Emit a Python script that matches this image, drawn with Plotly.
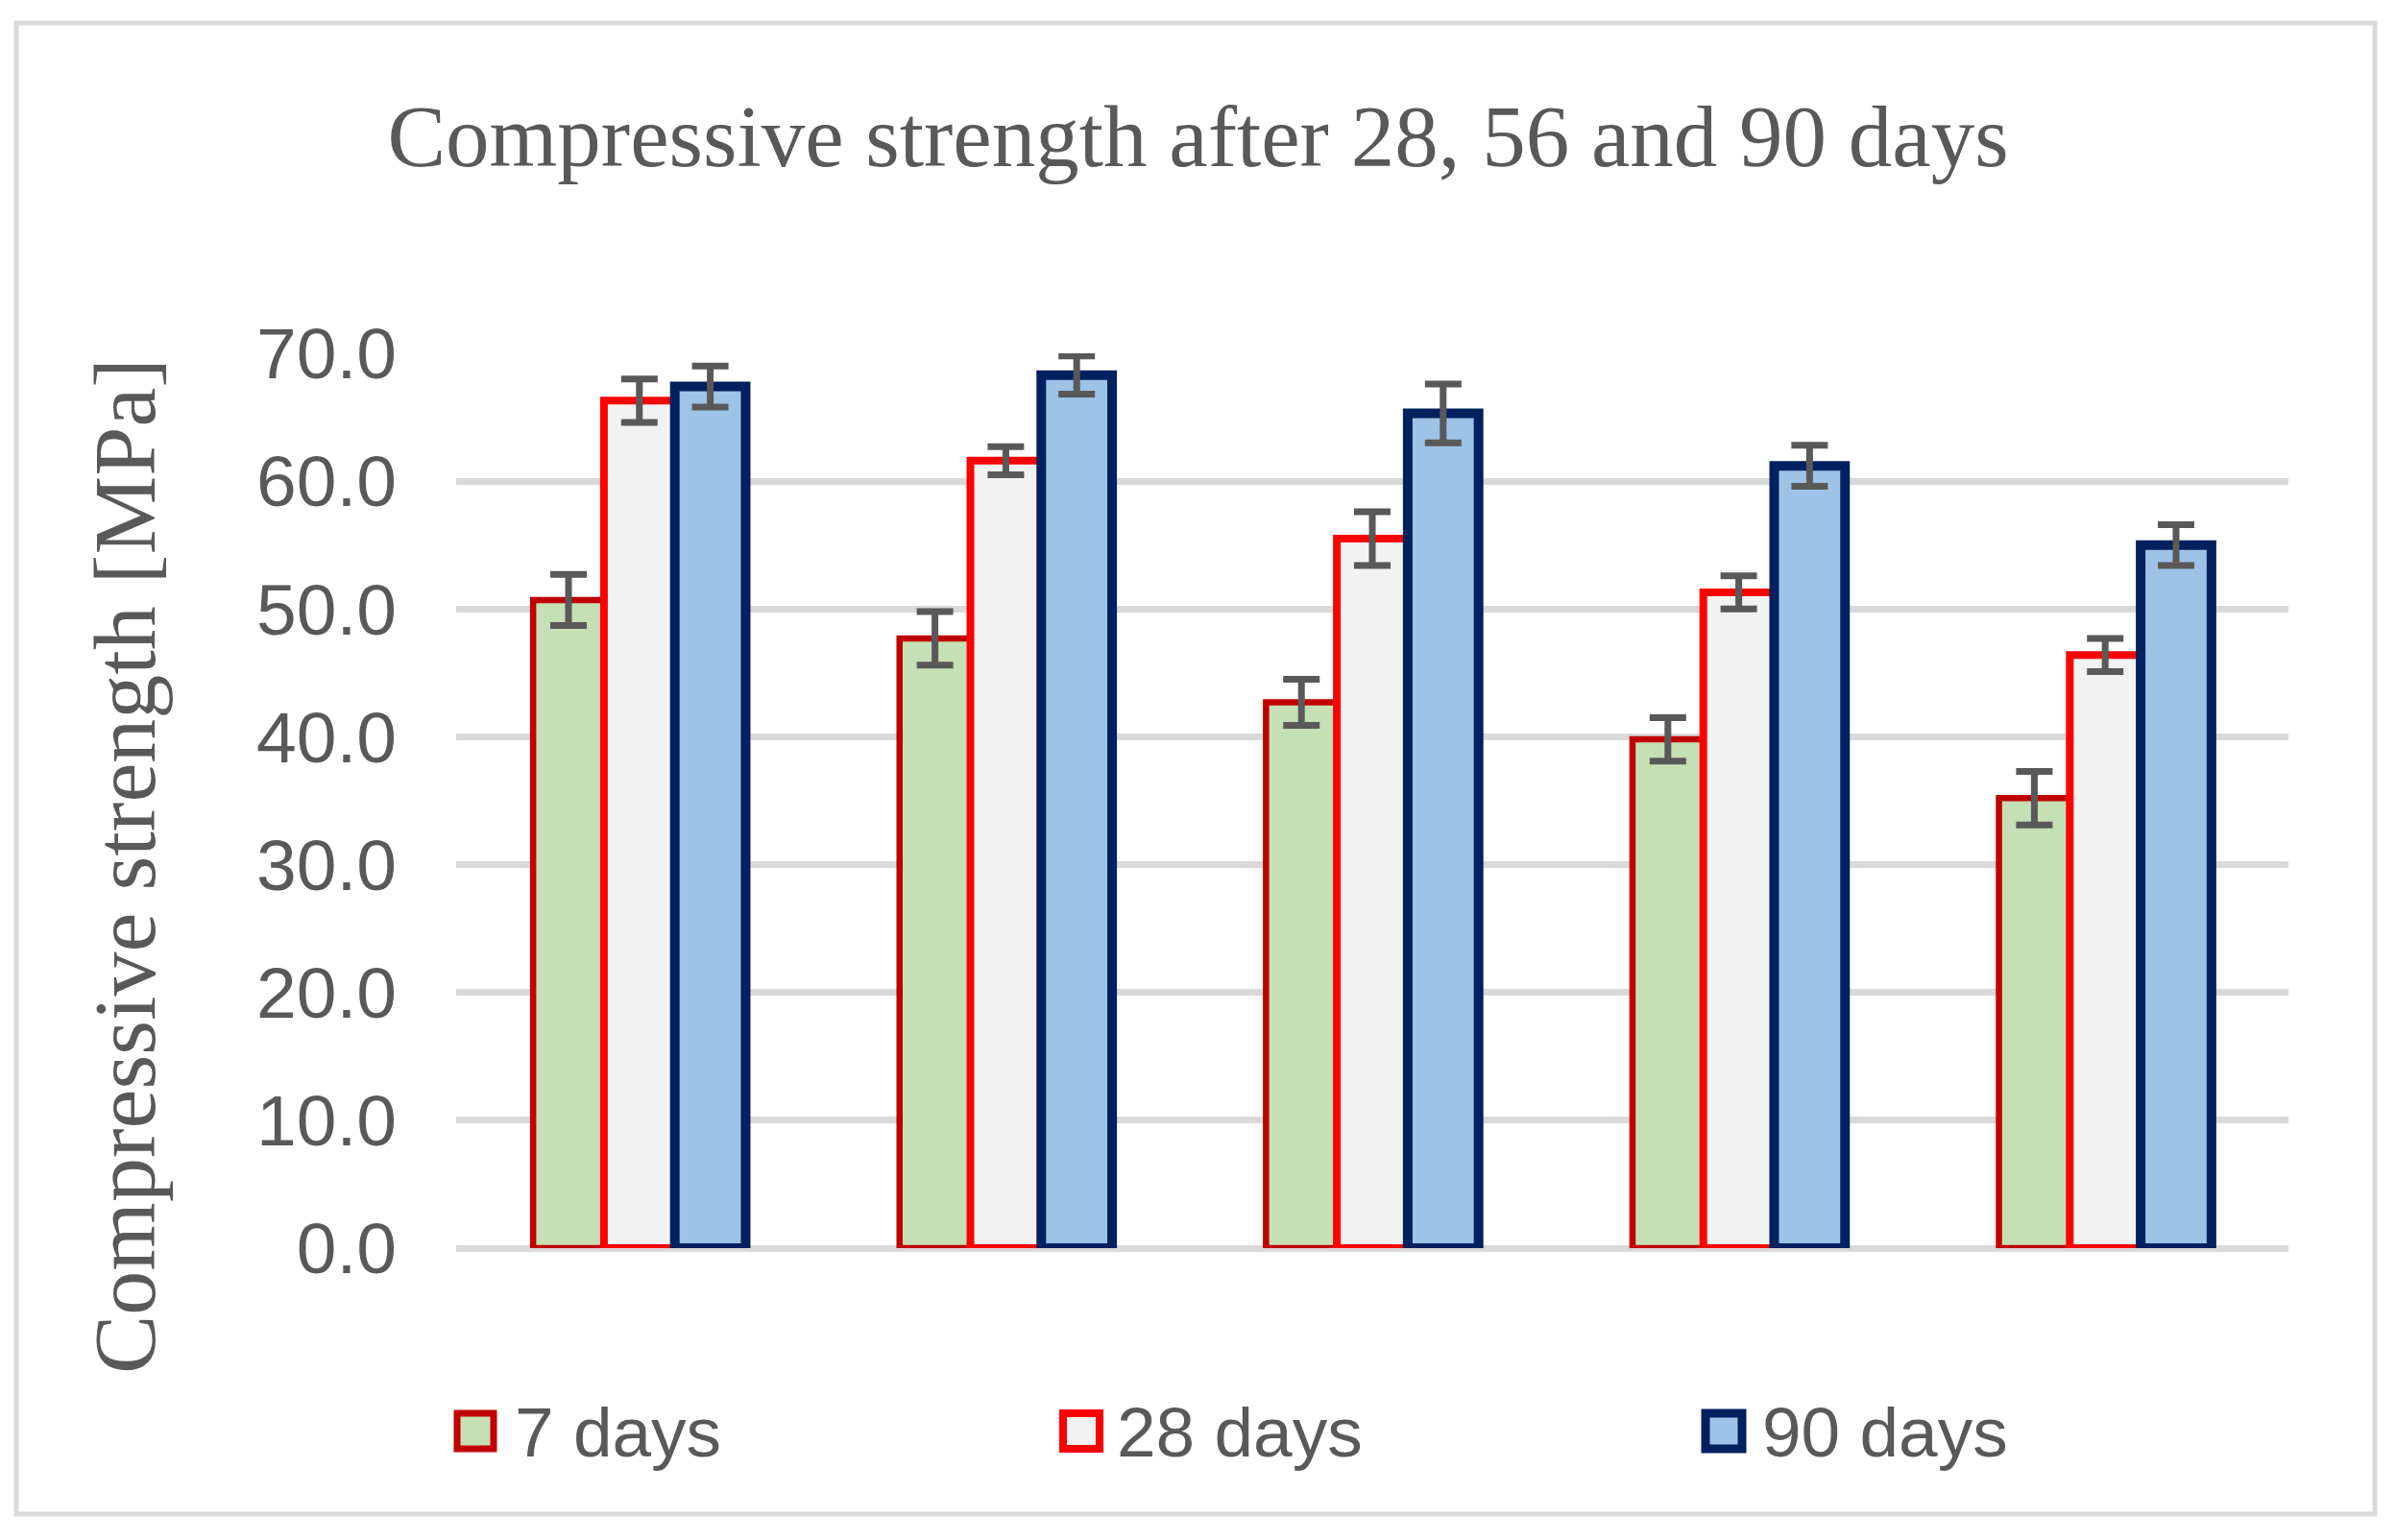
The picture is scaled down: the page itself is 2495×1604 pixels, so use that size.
import plotly.graph_objects as go

# ---- data ----
categories = ["1", "2", "3", "4", "5"]
series_names = ["7 days", "28 days", "90 days"]
values_7d = [50.7, 47.7, 42.7, 39.8, 35.2]
values_28d = [66.3, 61.6, 55.5, 51.3, 46.4]
values_90d = [67.4, 68.3, 65.3, 61.2, 55.0]
err_7d = [2.0, 2.1, 1.8, 1.7, 2.1]
err_28d = [1.7, 1.1, 2.1, 1.3, 1.3]
err_90d = [1.6, 1.5, 2.3, 1.6, 1.6]
y_ticks = [0, 10, 20, 30, 40, 50, 60, 70]
y_ticklabels = ["0.0", "10.0", "20.0", "30.0", "40.0", "50.0", "60.0", "70.0"]

title_text = "Compressive strength after 28, 56 and 90 days"
y_title = "Compressive strength [MPa]"

# ---- style ----
W, H = 2479, 1588
L, R, T, B = 467, 104, 360, 296
TXT = "#595959"
fills = ["#C5E0B4", "#F2F2F2", "#9DC3E6"]
lines = ["#C00000", "#FF0000", "#002060"]
line_w = [6.5, 8, 10]
legend_line_w = [7, 8, 9]
# legend swatch left edges / text starts (pixels in figure)
legend_swatch_x = [468, 1099, 1768]
legend_text_x = [526, 1153, 1825]
legend_swatch_y = (1464, 1501)
legend_text_y = 1483

fig = go.Figure()
for i, (vals, errs) in enumerate([(values_7d, err_7d), (values_28d, err_28d), (values_90d, err_90d)]):
    fig.add_trace(go.Bar(
        x=categories, y=vals, name=series_names[i],
        marker=dict(color=fills[i], line=dict(color=lines[i], width=line_w[i])),
        error_y=dict(type="data", array=errs, visible=True, color=TXT, thickness=7, width=19),
        cliponaxis=False, showlegend=False,
    ))

pw = W - L - R
ph = H - T - B

def px_x(v):
    return (v - L) / pw

def px_y(v):
    return (H - B - v) / ph

shapes = [dict(type="rect", xref="paper", yref="paper",
               x0=px_x(9), x1=px_x(2465), y0=px_y(1569), y1=px_y(16),
               line=dict(color="#D9D9D9", width=5), fillcolor="rgba(0,0,0,0)", layer="below")]
annotations = [dict(text=y_title, textangle=-90, xref="paper", yref="paper",
                    x=px_x(122), y=px_y(894), xanchor="center", yanchor="middle",
                    showarrow=False,
                    font=dict(family="Liberation Serif, Times New Roman, serif", size=92, color=TXT))]

# legend: swatch + label per series
for i, name in enumerate(series_names):
    sx = legend_swatch_x[i]
    shapes.append(dict(type="rect", xref="paper", yref="paper",
                       x0=px_x(sx), x1=px_x(sx + 38),
                       y0=px_y(legend_swatch_y[1]), y1=px_y(legend_swatch_y[0]),
                       line=dict(color=lines[i], width=legend_line_w[i]), fillcolor=fills[i],
                       layer="above"))
    annotations.append(dict(text=name, xref="paper", yref="paper",
                            x=px_x(legend_text_x[i]), y=px_y(legend_text_y),
                            xanchor="left", yanchor="middle", showarrow=False,
                            font=dict(family="Liberation Sans, Arial", size=73, color=TXT)))

fig.update_layout(
    width=W, height=H,
    margin=dict(l=L, r=R, t=T, b=B, pad=0),
    paper_bgcolor="white", plot_bgcolor="white",
    barmode="group", bargap=0.42, bargroupgap=0,
    showlegend=False,
    title=dict(text=title_text, x=0.5, xref="container", xanchor="center",
               y=1 - 133 / H, yref="container", yanchor="middle",
               font=dict(family="Liberation Serif, Times New Roman, serif", size=91, color=TXT)),
    xaxis=dict(showticklabels=False, showgrid=False, zeroline=False, showline=False, ticks=""),
    yaxis=dict(range=[0, 70], tickvals=y_ticks, ticktext=y_ticklabels,
               showgrid=True, gridcolor="#D9D9D9", gridwidth=6.5,
               zeroline=True, zerolinecolor="#D9D9D9", zerolinewidth=6.5,
               showline=False, ticks="", ticklabelstandoff=61,
               tickfont=dict(family="Liberation Sans, Arial", size=75, color=TXT)),
    annotations=annotations,
    shapes=shapes,
)

fig.write_html("out.html")
